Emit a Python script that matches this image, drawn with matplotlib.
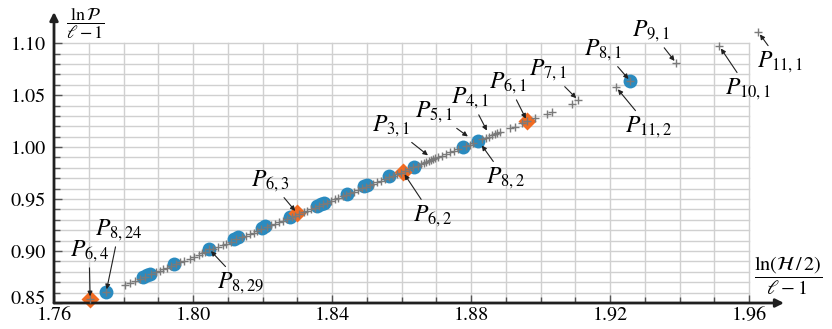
import matplotlib
matplotlib.use('Agg')
import matplotlib.pyplot as plt
import matplotlib.transforms as mtransforms
import numpy as np

plt.rcParams['font.family'] = ['STIXGeneral', 'DejaVu Serif']
plt.rcParams['mathtext.fontset'] = 'stix'

# gray crosses: all configurations
cross_x = [1.7704, 1.7750, 1.7804, 1.7819, 1.7833, 1.7847, 1.7862, 1.7880, 1.7893,
           1.7905, 1.7914, 1.7925, 1.7936, 1.7952, 1.7963, 1.7975, 1.7990, 1.8004,
           1.8016, 1.8027, 1.8035, 1.8046, 1.8058, 1.8072, 1.8085, 1.8096, 1.8108,
           1.8125, 1.8140, 1.8152, 1.8163, 1.8174, 1.8185, 1.8196, 1.8212, 1.8224,
           1.8236, 1.8247, 1.8258, 1.8269, 1.8285, 1.8293, 1.8306, 1.8318, 1.8329,
           1.8340, 1.8350, 1.8362, 1.8373, 1.8385, 1.8396, 1.8407, 1.8418, 1.8430,
           1.8441, 1.8452, 1.8463, 1.8474, 1.8485, 1.8497, 1.8508, 1.8519, 1.8530,
           1.8541, 1.8552, 1.8563, 1.8575, 1.8586, 1.8597, 1.8610, 1.8622, 1.8634,
           1.8647, 1.8656, 1.8664, 1.8671, 1.8678, 1.8684, 1.8690, 1.8697, 1.8705,
           1.8716, 1.8728, 1.8740, 1.8751, 1.8763, 1.8785, 1.8796, 1.8805, 1.8832,
           1.8842, 1.8852, 1.8860, 1.8868, 1.8875, 1.8883, 1.8912, 1.8927, 1.8945,
           1.8961, 1.8984, 1.9019, 1.9033, 1.9091, 1.9108, 1.9217, 1.9258, 1.9390,
           1.9514, 1.9626]
cross_y = [0.8538, 0.8606, 0.8674, 0.8695, 0.8714, 0.8733, 0.8753, 0.8778, 0.8795,
           0.8812, 0.8824, 0.8839, 0.8854, 0.8876, 0.8891, 0.8907, 0.8928, 0.8947,
           0.8963, 0.8978, 0.8989, 0.9019, 0.9020, 0.9039, 0.9057, 0.9072, 0.9088,
           0.9111, 0.9132, 0.9148, 0.9163, 0.9178, 0.9193, 0.9208, 0.9230, 0.9246,
           0.9263, 0.9278, 0.9293, 0.9308, 0.9329, 0.9340, 0.9358, 0.9374, 0.9389,
           0.9404, 0.9418, 0.9434, 0.9449, 0.9466, 0.9481, 0.9496, 0.9511, 0.9527,
           0.9542, 0.9557, 0.9572, 0.9587, 0.9602, 0.9618, 0.9633, 0.9648, 0.9663,
           0.9678, 0.9693, 0.9708, 0.9724, 0.9739, 0.9754, 0.9772, 0.9788, 0.9805,
           0.9822, 0.9835, 0.9846, 0.9855, 0.9865, 0.9873, 0.9881, 0.9891, 0.9901,
           0.9916, 0.9933, 0.9949, 0.9964, 0.9980, 1.0010, 1.0025, 1.0038, 1.0074,
           1.0088, 1.0102, 1.0115, 1.0123, 1.0135, 1.0144, 1.0183, 1.0192, 1.0228,
           1.0250, 1.0279, 1.0317, 1.0337, 1.0413, 1.0452, 1.0577, 1.0635, 1.0808,
           1.0971, 1.1106]

# blue circles
circ_x = [1.7750, 1.7856, 1.7868, 1.7876, 1.7945, 1.8046, 1.8118, 1.8130, 1.8199,
          1.8207, 1.8279, 1.8357, 1.8368, 1.8377, 1.8443, 1.8492, 1.8501, 1.8564,
          1.8636, 1.8777, 1.8820, 1.9258]
circ_y = [0.8606, 0.8750, 0.8769, 0.8779, 0.8875, 0.9019, 0.9115, 0.9135, 0.9221,
          0.9240, 0.9327, 0.9433, 0.9452, 0.9462, 0.9548, 0.9625, 0.9635, 0.9721,
          0.9808, 1.0000, 1.0058, 1.0635]

# orange diamonds
diam_x = [1.7704, 1.8299, 1.8604, 1.8961]
diam_y = [0.8538, 0.9365, 0.9760, 1.0250]

# labels: name, point, text position
lab_names = ['6,4', '8,24', '8,29', '6,3', '6,2', '3,1', '5,1', '4,1', '6,1',
             '8,2', '7,1', '8,1', '9,1', '11,2', '10,1', '11,1']
lab_px = [1.7704, 1.7750, 1.8046, 1.8299, 1.8604, 1.8682, 1.8797, 1.8849, 1.8961,
          1.8826, 1.9108, 1.9258, 1.9390, 1.9217, 1.9514, 1.9626]
lab_py = [0.8538, 0.8606, 0.9019, 0.9365, 0.9760, 0.9904, 1.0087, 1.0135, 1.0250,
          1.0038, 1.0452, 1.0635, 1.0808, 1.0577, 1.0971, 1.1106]
lab_tx = [1.7701, 1.7787, 1.8138, 1.8222, 1.8688, 1.8570, 1.8694, 1.8797, 1.8906,
          1.8898, 1.9022, 1.9180, 1.9318, 1.9312, 1.9597, 1.9689]
lab_ty = [0.9000, 0.9202, 0.8692, 0.9673, 0.9337, 1.0202, 1.0337, 1.0471, 1.0615,
          0.9702, 1.0740, 1.0933, 1.1115, 1.0192, 1.0558, 1.0817]

fig = plt.figure(figsize=(8.32, 3.29), dpi=100)
ax = fig.add_axes([54 / 832, 1 - 303 / 329, 730 / 832, 291 / 329])
ax.set_xlim(1.76, 1.97)
ax.set_ylim(0.85, 1.13)

# grid only inside the data box
for gx in np.arange(1.77, 1.965, 0.01):
    ax.plot([gx, gx], [0.85, 1.10], color='#d0d0d0', lw=1, zorder=0)
for gy in np.arange(0.86, 1.105, 0.01):
    ax.plot([1.76, 1.96], [gy, gy], color='#d0d0d0', lw=1, zorder=0)

ax.plot(circ_x, circ_y, 'o', color='#2a8bc0', ms=10, mec='none', zorder=2, clip_on=False)
ax.plot(diam_x, diam_y, 'D', color='#f26b21', ms=9, mec='none', zorder=3, clip_on=False)
ax.plot(cross_x, cross_y, '+', color='#7a7a7a', ms=6, mew=1, zorder=4, clip_on=False)

for n, px, py, tx, ty in zip(lab_names, lab_px, lab_py, lab_tx, lab_ty):
    ax.annotate(r'$P_{%s}$' % n, xy=(px, py), xytext=(tx, ty),
                ha='center', va='center', fontsize=17, annotation_clip=False,
                arrowprops=dict(arrowstyle='-|>', color='#202020', lw=0.8,
                                mutation_scale=7, shrinkA=1, shrinkB=2),
                zorder=5)

for s in ax.spines.values():
    s.set_visible(False)
ax.annotate('', xy=(1, 0), xytext=(0, 0), xycoords='axes fraction',
            arrowprops=dict(arrowstyle='-|>', color='#202020', lw=2, mutation_scale=12,
                            shrinkA=0, shrinkB=0))
ax.annotate('', xy=(0, 1), xytext=(0, 0), xycoords='axes fraction',
            arrowprops=dict(arrowstyle='-|>', color='#202020', lw=2, mutation_scale=12,
                            shrinkA=0, shrinkB=0))

ax.set_xticks([1.76, 1.80, 1.84, 1.88, 1.92, 1.96])
ax.set_xticks(np.arange(1.77, 1.965, 0.01), minor=True)
ax.set_yticks([0.85, 0.90, 0.95, 1.00, 1.05, 1.10])
ax.set_yticks(np.arange(0.86, 1.105, 0.01), minor=True)
ax.set_xticklabels(['1.76', '1.80', '1.84', '1.88', '1.92', '1.96'])
ax.set_yticklabels(['0.85', '0.90', '0.95', '1.00', '1.05', '1.10'])
ax.tick_params(which='both', direction='in', color='#555555', labelsize=14.5)
ax.tick_params(which='major', length=6, width=1)
ax.tick_params(which='minor', length=4, width=1)
ax.tick_params(axis='x', pad=3)
ax.tick_params(axis='y', pad=6)

# nudge the corner label up so it clears 1.76
lbl = ax.get_yticklabels()[0]
lbl.set_transform(lbl.get_transform() + mtransforms.ScaledTranslation(0, 4 / 72, fig.dpi_scale_trans))

fig.text(85 / 832, 1 - 24 / 329, r'$\dfrac{\ln\mathcal{P}}{\ell-1}$', ha='center', va='center',
         fontsize=13)
fig.text(788 / 832, 1 - 276 / 329, r'$\dfrac{\ln(\mathcal{H}\,/\,2)}{\ell-1}$', ha='center',
         va='center', fontsize=14.5)

fig.savefig('out.png', dpi=100)
